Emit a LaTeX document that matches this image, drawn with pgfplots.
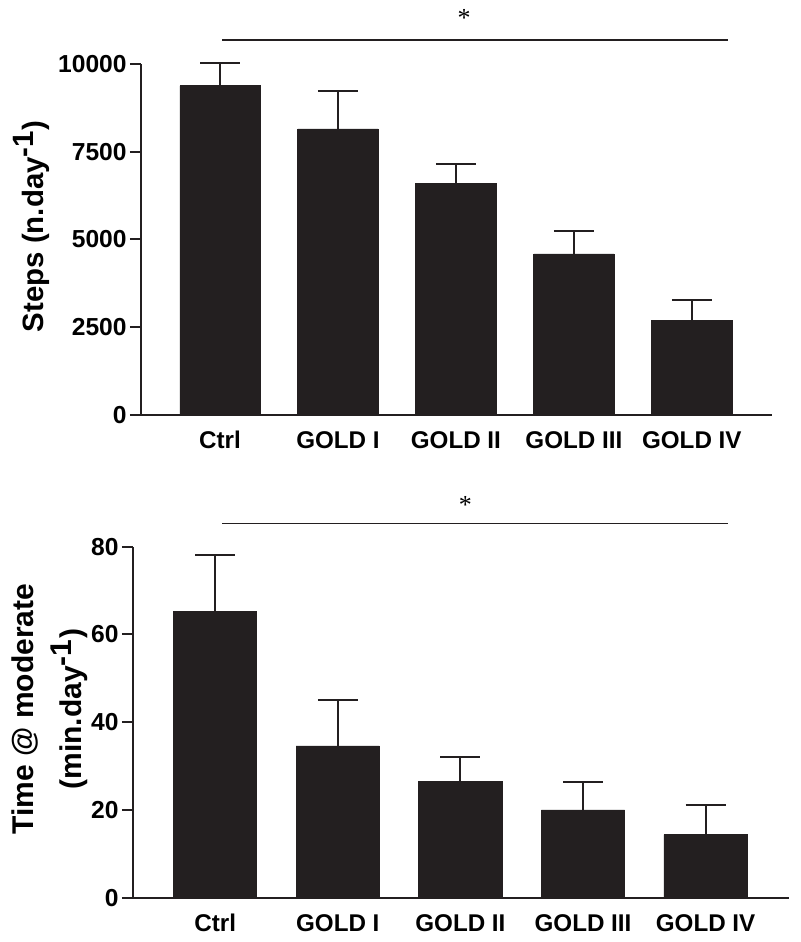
\documentclass[border=0pt]{standalone}
\usepackage{pgfplots}
\pgfplotsset{compat=1.18}
\usepackage{fontspec}
\setmainfont{Liberation Sans}
\newfontfamily\astfont{Liberation Serif}
\definecolor{barc}{RGB}{35,31,32}

\pgfplotsset{
  mybars/.style={
    scale only axis,
    axis lines=left,
    axis line style={-, line width=1pt, color=barc},
    ybar, bar width=0.68,
    xmin=-0.67, xmax=4.68, ymin=0,
    xtick={0,1,2,3,4},
    xticklabels={Ctrl,GOLD I,GOLD II,GOLD III,GOLD IV},
    x tick style={draw=none},
    y tick style={line width=1pt, color=barc},
    tick align=outside,
    major tick length=5.5pt,
    /pgf/number format/assume math mode=true,
    /pgf/number format/set thousands separator={},
    scaled y ticks=false,
    yticklabel style={font=\fontsize{12.3}{14}\selectfont\bfseries, inner sep=1.5pt},
    xticklabel style={font=\fontsize{12.1}{14}\selectfont\bfseries, text height=0.72em, text depth=0pt, yshift=-0.5pt},
    clip=false,
    error bars/y dir=plus,
    error bars/y explicit,
    error bars/error bar style={line width=0.9pt, color=barc},
    error bars/error mark options={rotate=90, mark size=10pt, line width=0.9pt, color=barc},
  }
}

\begin{document}
\begin{tikzpicture}
\useasboundingbox (0,0) rectangle (400pt,471pt);

% Top panel
\begin{axis}[mybars,
  at={(70.5pt,263.5pt)}, anchor=south west,
  width=315.5pt, height=175.5pt,
  ymax=10000,
  ytick={0,2500,5000,7500,10000},
  ylabel={Steps (n.day$^{\textbf{-1}}$)},
  ylabel style={font=\fontsize{14.7}{17}\selectfont\bfseries, at={(axis description cs:-0.174,0.538)}, anchor=center},
]
\addplot[fill=barc, draw=barc] coordinates {
  (0,9380) +- (0,650)
  (1,8148) +- (0,1080)
  (2,6600) +- (0,550)
  (3,4587) +- (0,660)
  (4,2697) +- (0,580)
};
\draw[line width=0.7pt, color=barc] (axis cs:0.017,10684) -- (axis cs:4.305,10684);
\node[font=\astfont\fontsize{13}{15}\selectfont] at (axis cs:2.07,11300) {*};
\end{axis}

% Bottom panel
\begin{axis}[mybars,
  at={(66.5pt,22.15pt)}, anchor=south west,
  width=328pt, height=175.5pt,
  ymax=80,
  ytick={0,20,40,60,80},
  ylabel={Time @ moderate\\(min.day$^{\textbf{-1}}$)},
  ylabel style={font=\fontsize{15}{24}\selectfont\bfseries, align=center, at={(axis description cs:-0.1265,0.5376)}, anchor=center},
]
\addplot[fill=barc, draw=barc] coordinates {
  (0,65.3) +- (0,12.8)
  (1,34.6) +- (0,10.4)
  (2,26.4) +- (0,5.6)
  (3,20.0) +- (0,6.4)
  (4,14.4) +- (0,6.8)
};
\draw[line width=0.7pt, color=barc] (axis cs:0.057,85.3) -- (axis cs:4.18,85.3);
\node[font=\astfont\fontsize{13}{15}\selectfont] at (axis cs:2.04,89.6) {*};
\end{axis}
\end{tikzpicture}
\end{document}
